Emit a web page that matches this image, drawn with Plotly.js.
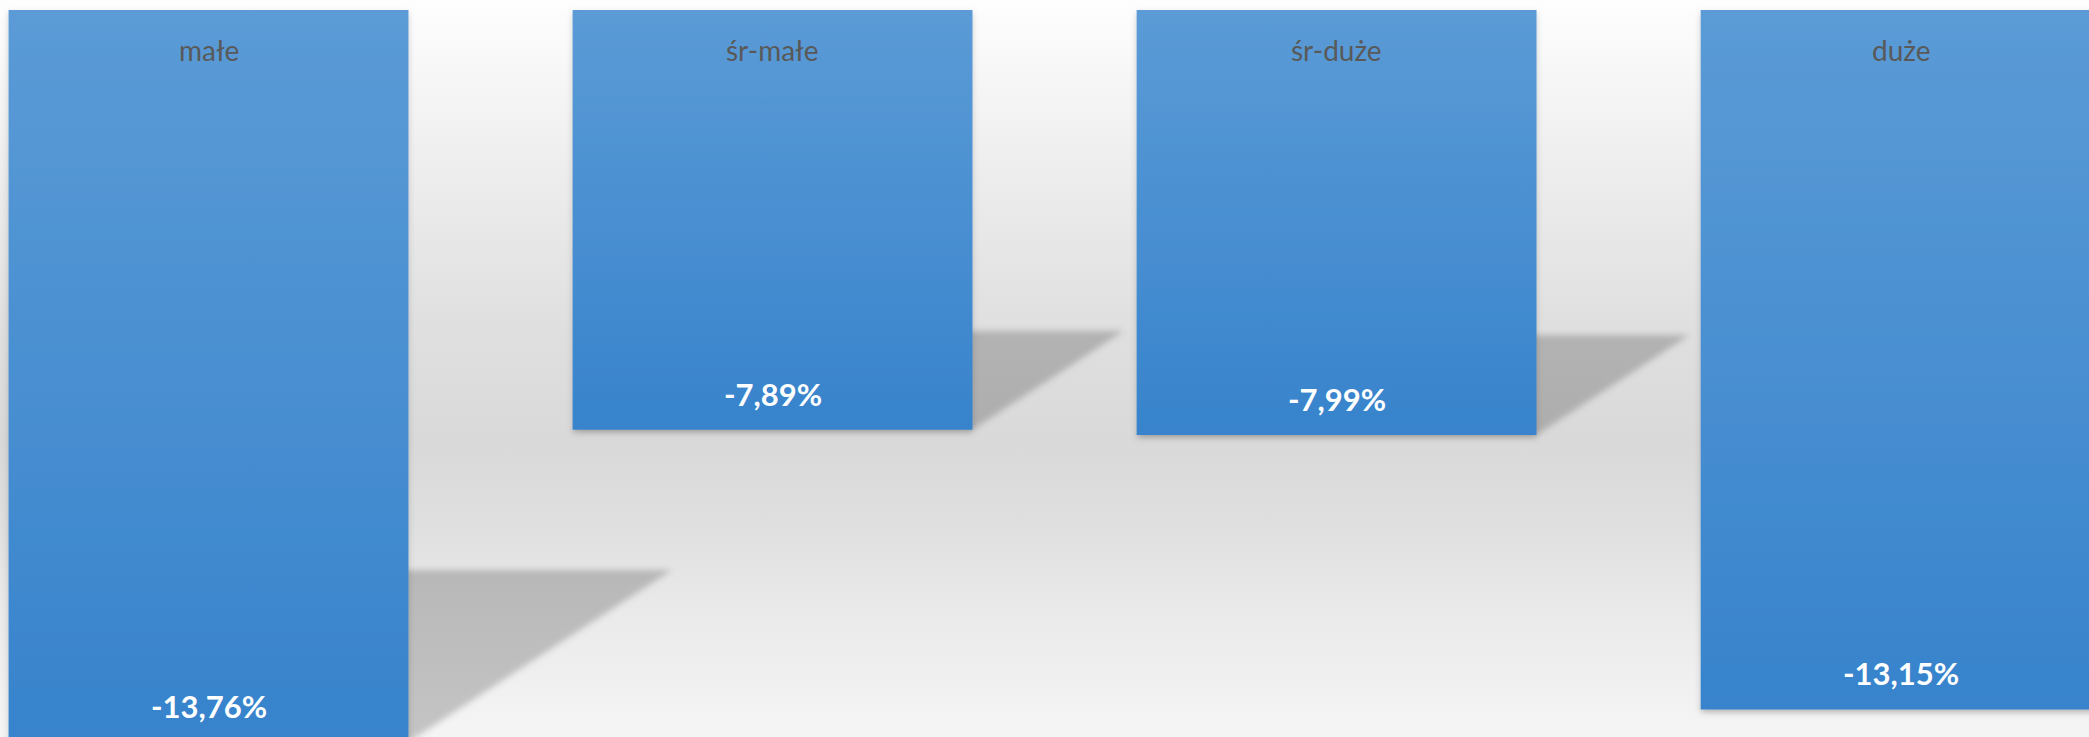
<!DOCTYPE html>
<html>
<head>
<meta charset="utf-8">
<script src="https://cdn.plot.ly/plotly-3.0.1.min.js"></script>
<style>
  html, body { margin: 0; padding: 0; overflow: hidden; }
  body {
    width: 2089px; height: 737px;
    background: linear-gradient(to bottom, #fefefe 0%, #ececec 25%, #dfdfdf 45%, #d9d9d9 60%, #dedede 70%, #e9e9e9 82%, #f5f5f5 100%);
  }
  #chart { width: 2089px; height: 737px; }
</style>
</head>
<body>
<div id="chart"></div>
<script>
// ---- data ----
const categories = ['małe', 'śr-małe', 'śr-duże', 'duże'];
const values = [-13.76, -7.89, -7.99, -13.15];

// ---- layout constants ----
const W = 2089, H = 737;
const xRange = [-0.3697, 3.334];
const yRange = [-13.668, 0.188];
const barWidth = 0.709;
const pxPerUnitY = H / (yRange[1] - yRange[0]);
const pxPerUnitX = W / (xRange[1] - xRange[0]);

const fmt = v => v.toFixed(2).replace('.', ',') + '%';

const idx = categories.map((c, i) => i);

const trace = {
  type: 'bar',
  x: idx,
  y: values,
  width: barWidth,
  marker: { color: '#4a90d0', line: { width: 0 } },
  hoverinfo: 'none',
  cliponaxis: true
};

// perspective floor shadows, derived from each bar's value
const shadows = values.map((v, i) => {
  const hpx = Math.abs(v) * pxPerUnitY;
  const dx = 0.36 * hpx / pxPerUnitX;
  const topY = v + 0.235 * Math.abs(v);
  const L = i - barWidth / 2, R = i + barWidth / 2;
  return {
    type: 'path',
    xref: 'x', yref: 'y',
    layer: 'below',
    path: `M ${L},${v} L ${R},${v} L ${R + dx},${topY} L ${L + dx},${topY} Z`,
    fillcolor: 'rgba(0,0,0,0.2)',
    line: { width: 0 }
  };
});

const annotations = [];
categories.forEach((c, i) => {
  annotations.push({
    x: i, y: 0, xref: 'x', yref: 'y',
    text: c, showarrow: false,
    yanchor: 'middle', xanchor: 'center',
    yshift: -40,
    font: { family: 'Lato, "Open Sans", sans-serif', size: 28, color: '#595959' }
  });
  annotations.push({
    x: i, y: values[i] + 36 / pxPerUnitY, xref: 'x', yref: 'y',
    text: '<b>' + fmt(values[i]) + '</b>', showarrow: false,
    yanchor: 'middle', xanchor: 'center',
    font: { family: 'Lato, "Open Sans", sans-serif', size: 31, color: '#ffffff' }
  });
});

const layout = {
  width: W, height: H,
  margin: { l: 0, r: 0, t: 0, b: 0, pad: 0 },
  paper_bgcolor: 'rgba(0,0,0,0)',
  plot_bgcolor: 'rgba(0,0,0,0)',
  showlegend: false,
  xaxis: { range: xRange, visible: false, showgrid: false, zeroline: false, fixedrange: true },
  yaxis: { range: yRange, visible: false, showgrid: false, zeroline: false, fixedrange: true },
  shapes: shadows,
  annotations: annotations
};

Plotly.newPlot('chart', [trace], layout, { staticPlot: true, displayModeBar: false }).then(gd => {
  const NS = 'http://www.w3.org/2000/svg';
  const svg = gd.querySelector('svg.main-svg');
  let defs = svg.querySelector('defs');
  if (!defs) { defs = document.createElementNS(NS, 'defs'); svg.insertBefore(defs, svg.firstChild); }

  const grad = document.createElementNS(NS, 'linearGradient');
  grad.setAttribute('id', 'barGrad');
  grad.setAttribute('x1', '0'); grad.setAttribute('y1', '0');
  grad.setAttribute('x2', '0'); grad.setAttribute('y2', '1');
  [['0%', '#5b9bd6'], ['100%', '#3783cc']].forEach(([o, c]) => {
    const s = document.createElementNS(NS, 'stop');
    s.setAttribute('offset', o); s.setAttribute('stop-color', c);
    grad.appendChild(s);
  });
  defs.appendChild(grad);

  const blur = document.createElementNS(NS, 'filter');
  blur.setAttribute('id', 'shadowBlur');
  blur.setAttribute('x', '-20%'); blur.setAttribute('y', '-20%');
  blur.setAttribute('width', '140%'); blur.setAttribute('height', '140%');
  const gb = document.createElementNS(NS, 'feGaussianBlur');
  gb.setAttribute('stdDeviation', '3');
  blur.appendChild(gb);
  defs.appendChild(blur);

  const drop = document.createElementNS(NS, 'filter');
  drop.setAttribute('id', 'barDrop');
  drop.setAttribute('x', '-5%'); drop.setAttribute('y', '-5%');
  drop.setAttribute('width', '110%'); drop.setAttribute('height', '110%');
  const ds = document.createElementNS(NS, 'feDropShadow');
  ds.setAttribute('dx', '0'); ds.setAttribute('dy', '3');
  ds.setAttribute('stdDeviation', '3');
  ds.setAttribute('flood-color', '#000'); ds.setAttribute('flood-opacity', '0.18');
  drop.appendChild(ds);
  defs.appendChild(drop);

  gd.querySelectorAll('.trace.bars .point path').forEach(p => {
    p.style.fill = 'url(#barGrad)';
    p.setAttribute('filter', 'url(#barDrop)');
  });
  gd.querySelectorAll('.shapelayer path').forEach(p => {
    p.setAttribute('filter', 'url(#shadowBlur)');
  });
});
</script>
</body>
</html>
